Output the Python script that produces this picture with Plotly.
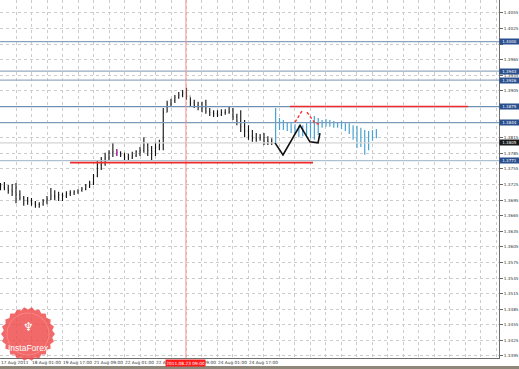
import math
import plotly.graph_objects as go

# ---------------- data ----------------
x_tick_hours = [0, 16, 32, 48, 64, 80, 96, 112, 128]
x_tick_text = ["17 Aug 2011", "18 Aug 01:00", "19 Aug 17:00", "21 Aug 09:00",
               "22 Aug 01:00", "22 Aug 17:00", "23 Aug 09:00", "24 Aug 01:00",
               "24 Aug 17:00"]
y_tick_vals = [1.4055, 1.4025, 1.3995, 1.3965, 1.3935, 1.3905, 1.3875, 1.3845, 1.3815,
               1.3785, 1.3755, 1.3725, 1.3695, 1.3665, 1.3635, 1.3605, 1.3575, 1.3545,
               1.3515, 1.3485, 1.3455, 1.3425, 1.3395]
# labels hidden behind the level boxes are left blank, as in the terminal
y_tick_text = ["1.4055", "1.4025", "", "1.3965", "1.3935", "1.3905",
               "", "", "1.3815", "1.3785", "1.3755", "1.3725",
               "1.3695", "1.3665", "1.3635", "1.3605", "1.3575", "1.3545",
               "1.3515", "1.3485", "1.3455", "1.3425", "1.3395"]
x_range = [-0.26, 257.3]
y_range = [1.33911, 1.40800]

# history bars (2-hour steps)
price_hours = list(range(0, 141, 2))
price_open = [1.3724, 1.3722, 1.3718, 1.3714, 1.3711, 1.3705, 1.3699, 1.3695, 1.3693, 1.3689,
              1.3686, 1.3687, 1.3693, 1.3697, 1.3703, 1.3701, 1.3705, 1.3703, 1.3707, 1.3709,
              1.3711, 1.3714, 1.3716, 1.3722, 1.3728, 1.3741, 1.3763, 1.3772, 1.3776, 1.3786,
              1.3788, 1.3786, 1.3782, 1.3778, 1.3776, 1.3780, 1.3788, 1.3791, 1.3801, 1.3791,
              1.3788, 1.3797, 1.3801, 1.3864, 1.3880, 1.3886, 1.3893, 1.3897, 1.3901, 1.3895,
              1.3882, 1.3878, 1.3874, 1.3872, 1.3866, 1.3863, 1.3861, 1.3859, 1.3863, 1.3864,
              1.3866, 1.3855, 1.3847, 1.3836, 1.3828, 1.3818, 1.3814, 1.3813, 1.3816, 1.3809,
              1.3807]
price_high = [1.3728, 1.3730, 1.3724, 1.3726, 1.3728, 1.3714, 1.3703, 1.3701, 1.3699, 1.3693,
              1.3691, 1.3697, 1.3703, 1.3718, 1.3714, 1.3711, 1.3709, 1.3712, 1.3714, 1.3714,
              1.3716, 1.3720, 1.3726, 1.3732, 1.3745, 1.3770, 1.3778, 1.3786, 1.3791, 1.3805,
              1.3793, 1.3789, 1.3786, 1.3784, 1.3788, 1.3791, 1.3797, 1.3816, 1.3805, 1.3799,
              1.3807, 1.3811, 1.3872, 1.3886, 1.3890, 1.3897, 1.3903, 1.3907, 1.3911, 1.3893,
              1.3888, 1.3884, 1.3884, 1.3888, 1.3872, 1.3868, 1.3868, 1.3870, 1.3870, 1.3874,
              1.3872, 1.3861, 1.3868, 1.3849, 1.3839, 1.3830, 1.3824, 1.3822, 1.3824, 1.3818,
              1.3814]
price_low = [1.3714, 1.3714, 1.3707, 1.3703, 1.3689, 1.3695, 1.3684, 1.3686, 1.3684, 1.3680,
             1.3680, 1.3684, 1.3687, 1.3695, 1.3695, 1.3693, 1.3693, 1.3699, 1.3703, 1.3705,
             1.3707, 1.3711, 1.3714, 1.3718, 1.3724, 1.3739, 1.3753, 1.3761, 1.3772, 1.3778,
             1.3780, 1.3778, 1.3772, 1.3772, 1.3774, 1.3778, 1.3780, 1.3786, 1.3780, 1.3772,
             1.3780, 1.3791, 1.3791, 1.3864, 1.3876, 1.3882, 1.3890, 1.3893, 1.3888, 1.3876,
             1.3872, 1.3868, 1.3864, 1.3861, 1.3857, 1.3855, 1.3855, 1.3857, 1.3859, 1.3861,
             1.3849, 1.3839, 1.3826, 1.3816, 1.3811, 1.3807, 1.3807, 1.3809, 1.3801, 1.3801,
             1.3801]
price_close = [1.3722, 1.3718, 1.3714, 1.3711, 1.3705, 1.3699, 1.3695, 1.3693, 1.3689, 1.3686,
               1.3687, 1.3693, 1.3697, 1.3703, 1.3701, 1.3705, 1.3703, 1.3707, 1.3709, 1.3711,
               1.3714, 1.3716, 1.3722, 1.3728, 1.3741, 1.3763, 1.3772, 1.3776, 1.3786, 1.3788,
               1.3786, 1.3782, 1.3778, 1.3776, 1.3780, 1.3788, 1.3791, 1.3801, 1.3791, 1.3788,
               1.3797, 1.3801, 1.3864, 1.3880, 1.3886, 1.3893, 1.3897, 1.3901, 1.3895, 1.3882,
               1.3878, 1.3874, 1.3872, 1.3866, 1.3863, 1.3861, 1.3859, 1.3863, 1.3864, 1.3866,
               1.3855, 1.3847, 1.3836, 1.3828, 1.3818, 1.3814, 1.3813, 1.3816, 1.3809, 1.3807,
               1.3805]
highlight_bar = 30  # magenta bar

# forecast bars (blue)
fc_hours = list(range(142, 195, 2))
fc_open = [1.3805, 1.3849, 1.3841, 1.3838, 1.3836, 1.3834, 1.3830, 1.3828, 1.3832, 1.3836,
           1.3830, 1.3839, 1.3841, 1.3841, 1.3843, 1.3845, 1.3841, 1.3839, 1.3838, 1.3836,
           1.3832, 1.3826, 1.3822, 1.3818, 1.3811, 1.3818, 1.3822]
fc_high = [1.3872, 1.3853, 1.3849, 1.3845, 1.3843, 1.3841, 1.3838, 1.3839, 1.3843, 1.3849,
           1.3857, 1.3853, 1.3849, 1.3851, 1.3849, 1.3847, 1.3845, 1.3847, 1.3843, 1.3843,
           1.3839, 1.3838, 1.3834, 1.3830, 1.3828, 1.3830, 1.3832]
fc_low = [1.3805, 1.3830, 1.3830, 1.3828, 1.3824, 1.3822, 1.3816, 1.3818, 1.3820, 1.3814,
          1.3811, 1.3820, 1.3834, 1.3836, 1.3836, 1.3834, 1.3834, 1.3832, 1.3828, 1.3822,
          1.3811, 1.3795, 1.3797, 1.3782, 1.3791, 1.3809, 1.3814]
fc_close = [1.3849, 1.3841, 1.3838, 1.3836, 1.3834, 1.3830, 1.3828, 1.3832, 1.3836, 1.3830,
            1.3839, 1.3841, 1.3841, 1.3843, 1.3845, 1.3841, 1.3839, 1.3838, 1.3836, 1.3832,
            1.3826, 1.3822, 1.3818, 1.3811, 1.3818, 1.3822, 1.3826]

# forecast zigzag (black) and red dashed pattern
zigzag_hours = [141.7, 145.8, 154.6, 159.7, 163.9, 164.9]
zigzag_prices = [1.3805, 1.3782, 1.3839, 1.3807, 1.3805, 1.3824]
red_dash_hours = [152.0, 155.6, None, 158.2, 162.3, 164.4]
red_dash_prices = [1.3845, 1.3866, None, 1.3864, 1.3843, 1.3841]

# red trend segments
red_seg_start = [35.9, 149.4]
red_seg_end = [161.3, 241.3]
red_seg_price = [1.3767, 1.3875]

# horizontal levels (full width) with right-axis boxes
level_prices = [1.4000, 1.3943, 1.3926, 1.3875, 1.3844, 1.3771]
level_colors = ["#8aa2bb", "#97abc0", "#97abc0", "#6d90b5", "#7b9bbd", "#adbfd0"]
current_price = 1.3805

crosshair_hour = 95.7
crosshair_text = "2011.08.23 09:00"

# ---------------- figure ----------------
PLOT_W, PLOT_H = 499, 358
fig = go.Figure()

# level lines, current price line, crosshair (drawn first, beneath the bars)
for p, c in zip(level_prices, level_colors):
    fig.add_trace(go.Scatter(x=x_range, y=[p, p], mode="lines",
                             line=dict(color=c, width=1.2), hoverinfo="skip"))
fig.add_trace(go.Scatter(x=x_range, y=[current_price, current_price], mode="lines",
                         line=dict(color="#d4d4d4", width=1.2), hoverinfo="skip"))
fig.add_trace(go.Scatter(x=[crosshair_hour, crosshair_hour], y=y_range, mode="lines",
                         line=dict(color="#ff9090", width=1), hoverinfo="skip"))
for s, e, p in zip(red_seg_start, red_seg_end, red_seg_price):
    fig.add_trace(go.Scatter(x=[s, e], y=[p, p], mode="lines",
                             line=dict(color="#ee2a2a", width=1.6), hoverinfo="skip"))

fig.add_trace(go.Ohlc(
    x=price_hours, open=price_open, high=price_high, low=price_low, close=price_close,
    increasing=dict(line=dict(color="#111111", width=1.1)),
    decreasing=dict(line=dict(color="#111111", width=1.1)),
    tickwidth=0.35, hoverinfo="skip"))

fig.add_trace(go.Ohlc(
    x=[price_hours[highlight_bar]], open=[price_open[highlight_bar]],
    high=[price_high[highlight_bar]], low=[price_low[highlight_bar]],
    close=[price_close[highlight_bar]],
    increasing=dict(line=dict(color="#c030c0", width=1.2)),
    decreasing=dict(line=dict(color="#c030c0", width=1.2)),
    tickwidth=0.35, hoverinfo="skip"))

fig.add_trace(go.Ohlc(
    x=fc_hours, open=fc_open, high=fc_high, low=fc_low, close=fc_close,
    increasing=dict(line=dict(color="#4aa3d2", width=1.2)),
    decreasing=dict(line=dict(color="#4aa3d2", width=1.2)),
    tickwidth=0.35, hoverinfo="skip"))

fig.add_trace(go.Scatter(x=zigzag_hours, y=zigzag_prices, mode="lines",
                         line=dict(color="#111111", width=1.6), hoverinfo="skip"))
fig.add_trace(go.Scatter(x=red_dash_hours, y=red_dash_prices, mode="lines",
                         line=dict(color="#ff2a2a", width=1.3, dash="3px,2px"),
                         connectgaps=False, hoverinfo="skip"))

shapes = []
# bottom status strip
shapes.append(dict(type="rect", xref="paper", yref="paper", x0=0, x1=519 / PLOT_W,
                   y0=-(366 - PLOT_H) / PLOT_H, y1=-(369 - PLOT_H) / PLOT_H,
                   fillcolor="#8c8778", line=dict(width=0), layer="above"))

# InstaForex badge (serrated circle)
cx, cy, r_out, r_in, teeth = 28, 334, 27, 24.5, 22
pts = []
for i in range(teeth * 2):
    ang = math.pi * i / teeth
    r = r_out if i % 2 == 0 else r_in
    px = cx + r * math.cos(ang)
    py = cy + r * math.sin(ang)
    pts.append(f"{px / PLOT_W:.5f},{1 - py / PLOT_H:.5f}")
path = "M " + " L ".join(pts) + " Z"
shapes.append(dict(type="path", xref="paper", yref="paper", path=path,
                   fillcolor="rgba(238,72,72,0.82)", line=dict(width=0), layer="above"))
shapes.append(dict(type="circle", xref="paper", yref="paper",
                   x0=(cx - 21) / PLOT_W, x1=(cx + 21) / PLOT_W,
                   y0=1 - (cy + 21) / PLOT_H, y1=1 - (cy - 21) / PLOT_H,
                   line=dict(color="rgba(255,150,150,0.6)", width=1), layer="above"))

box_font = dict(size=4, color="white", family="DejaVu Sans")
annotations = []
for p in level_prices:
    annotations.append(dict(x=1, xref="paper", y=p, yref="y", xanchor="left", yanchor="middle",
                            text=f"{p:.4f}", showarrow=False, xshift=0, font=box_font,
                            bgcolor="#2b4f8e", borderpad=0, width=19, height=5))
annotations.append(dict(x=1, xref="paper", y=current_price, yref="y", xanchor="left",
                        yanchor="middle", text=f"{current_price:.4f}", showarrow=False,
                        font=box_font, bgcolor="#1a1a1a", borderpad=0, width=19, height=5))
annotations.append(dict(x=crosshair_hour, xref="x", y=0, yref="paper", yanchor="top",
                        xanchor="center", text=crosshair_text, showarrow=False, yshift=-1,
                        font=dict(size=4.3, color="white", family="DejaVu Sans"),
                        bgcolor="#ff1a1a", borderpad=0.6, width=38))
annotations.append(dict(x=cx / PLOT_W, xref="paper", y=1 - 348 / PLOT_H, yref="paper",
                        xanchor="center", yanchor="middle",
                        text="InstaForex", showarrow=False,
                        font=dict(size=8.5, color="white", family="Liberation Sans")))
annotations.append(dict(x=cx / PLOT_W, xref="paper", y=1 - 327 / PLOT_H, yref="paper",
                        xanchor="center", yanchor="middle",
                        text="♆", showarrow=False,
                        font=dict(size=12, color="white", family="DejaVu Sans")))

fig.update_layout(
    width=519, height=369,
    margin=dict(l=0, r=20, t=0, b=11, autoexpand=False),
    paper_bgcolor="white", plot_bgcolor="white",
    showlegend=False,
    shapes=shapes, annotations=annotations,
    xaxis=dict(range=x_range, tickmode="array", tickvals=x_tick_hours,
               ticktext=x_tick_text, ticklabelposition="outside right", tickangle=0,
               tickfont=dict(size=4.3, color="#333333", family="DejaVu Sans"),
               ticks="", showgrid=True, gridcolor="#cccccc", griddash="dot", gridwidth=1,
               minor=dict(tickmode="linear", tick0=0, dtick=8, showgrid=True,
                          gridcolor="#cccccc", griddash="dot", gridwidth=1),
               showline=True, linecolor="#6e6e6e", linewidth=1, zeroline=False,
               automargin=False, rangeslider=dict(visible=False), fixedrange=True),
    yaxis=dict(side="right", range=y_range, tickmode="array",
               tickvals=y_tick_vals, ticktext=y_tick_text,
               tickfont=dict(size=4.2, color="#333333", family="DejaVu Sans"),
               ticks="outside", ticklen=3, tickcolor="#666666",
               showgrid=True, gridcolor="#cccccc", griddash="dot", gridwidth=1,
               showline=True, linecolor="#6e6e6e", linewidth=1, zeroline=False,
               automargin=False, fixedrange=True),
)

fig.write_html("out.html")
